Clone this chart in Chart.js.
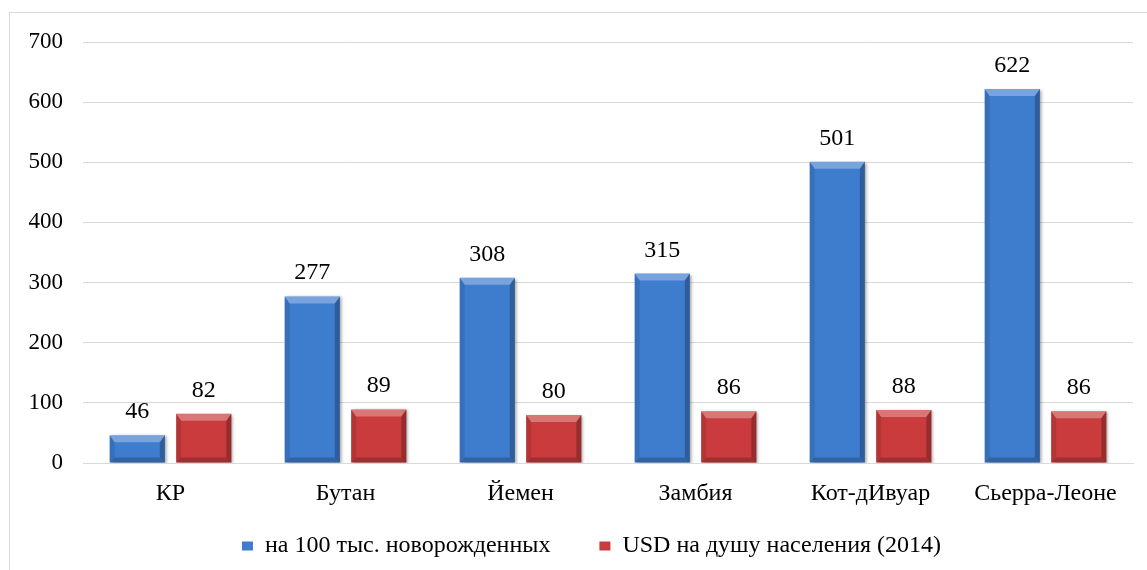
<!DOCTYPE html>
<html lang="ru">
<head>
<meta charset="utf-8">
<title>Показатели по странам</title>
<script src="https://cdn.jsdelivr.net/npm/chart.js@4.4.1/dist/chart.umd.min.js"></script>
<style>
  html, body { margin: 0; padding: 0; background: #fff; overflow: hidden; }
  #wrap { position: relative; width: 1147px; height: 570px; }
  #frame {
    position: absolute; left: 9px; top: 12px;
    width: 1200px; height: 600px;
    border: 1px solid #d9d9d9;
  }
  #chart { position: absolute; left: 0; top: 0; }
</style>
</head>
<body>
<div id="wrap">
  <div id="frame"></div>
  <canvas id="chart" width="1147" height="570"></canvas>
</div>
<script>
const countries = ['КР', 'Бутан', 'Йемен', 'Замбия', 'Кот-дИвуар', 'Сьерра-Леоне'];
const perNewborns = [46, 277, 308, 315, 501, 622];
const usdPerCapita = [82, 89, 80, 86, 88, 86];
const seriesNames = ['на 100 тыс. новорожденных', 'USD на душу населения (2014)'];
const yTicks = [0, 100, 200, 300, 400, 500, 600, 700];

const FONT = "'Liberation Serif', 'Times New Roman', serif";

// drop shadow under the bars, then bevelled edges and value labels on top
const bevelBars = {
  id: 'bevelBars',
  beforeDatasetsDraw(chart) {
    const ctx = chart.ctx;
    ctx.save();
    ctx.shadowColor = 'rgba(0,0,0,0.35)';
    ctx.shadowBlur = 3;
    ctx.shadowOffsetX = 2;
    ctx.shadowOffsetY = 1;
  },
  afterDatasetsDraw(chart) {
    const ctx = chart.ctx;
    ctx.restore();
    chart.data.datasets.forEach((ds, di) => {
      const meta = chart.getDatasetMeta(di);
      meta.data.forEach((bar, i) => {
        const { x, y, width, base } = bar.getProps(['x', 'y', 'width', 'base'], true);
        const l = x - width / 2, r = x + width / 2, t = y, b = base;
        const e = Math.min(7, (b - t) / 2);
        const side = Math.min(5, (b - t) / 2);
        const poly = (pts, fill) => {
          ctx.beginPath();
          ctx.moveTo(pts[0][0], pts[0][1]);
          pts.slice(1).forEach(p => ctx.lineTo(p[0], p[1]));
          ctx.closePath();
          ctx.fillStyle = fill;
          ctx.fill();
        };
        poly([[l, t], [r, t], [r - side, t + e], [l + side, t + e]], 'rgba(255,255,255,0.30)');
        poly([[l, t], [l + side, t + e], [l + side, b - side], [l, b]], 'rgba(0,0,0,0.10)');
        poly([[r, t], [r - side, t + e], [r - side, b - side], [r, b]], 'rgba(0,0,0,0.25)');
        poly([[l, b], [l + side, b - side], [r - side, b - side], [r, b]], 'rgba(0,0,0,0.20)');

        ctx.save();
        ctx.font = '24px ' + FONT;
        ctx.fillStyle = '#000';
        ctx.textAlign = 'center';
        ctx.textBaseline = 'alphabetic';
        ctx.fillText(String(ds.data[i]), x, t - 17);
        ctx.restore();
      });
    });
  }
};

// legend row: a little right of the canvas centre, just under the axis labels
const legendShift = {
  id: 'legendShift',
  afterLayout(chart) {
    const lg = chart.legend;
    const h = lg.bottom - lg.top;
    lg.left = 50;
    lg.right = 1133;
    lg.top = 485;
    lg.bottom = lg.top + h;
  }
};

new Chart(document.getElementById('chart'), {
  type: 'bar',
  data: {
    labels: countries,
    datasets: [
      {
        label: seriesNames[0],
        data: perNewborns,
        backgroundColor: '#3e7cce',
        borderWidth: 0
      },
      {
        label: seriesNames[1],
        data: usdPerCapita,
        backgroundColor: '#c93b3c',
        borderWidth: 0
      }
    ]
  },
  options: {
    responsive: false,
    animation: false,
    devicePixelRatio: 1,
    // the legend is moved by hand, so only part of its box is reserved here
    layout: { padding: { top: 42, right: 14, left: 0, bottom: -38 } },
    datasets: {
      bar: { categoryPercentage: 0.76, barPercentage: 0.83 }
    },
    scales: {
      x: {
        grid: { display: false, drawTicks: false },
        border: { display: true, color: '#d9d9d9' },
        ticks: {
          color: '#000',
          font: { family: FONT, size: 24 },
          padding: 16
        },
        afterFit(scale) { scale.height = 62; }
      },
      y: {
        min: 0,
        max: 700,
        afterBuildTicks(scale) { scale.ticks = yTicks.map(v => ({ value: v })); },
        grid: { color: '#d9d9d9', drawTicks: false },
        border: { display: false },
        ticks: {
          color: '#000',
          font: { family: FONT, size: 23 },
          padding: 20
        },
        afterFit(scale) { scale.width = 83; }
      }
    },
    plugins: {
      tooltip: { enabled: false },
      legend: {
        position: 'bottom',
        labels: {
          color: '#000',
          font: { family: FONT, size: 24 },
          boxWidth: 11,
          boxHeight: 9,
          padding: 49
        }
      }
    }
  },
  plugins: [bevelBars, legendShift]
});
</script>
</body>
</html>
